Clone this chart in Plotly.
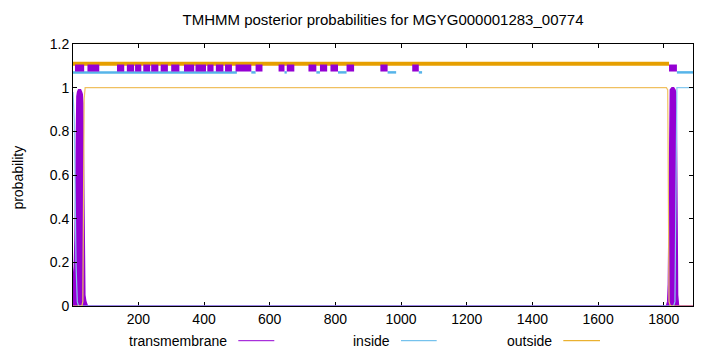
import plotly.graph_objects as go

# ---- posterior probability curves (residue position, probability) ----
tm_pos = [1, 3, 5, 7, 9, 11, 13, 15, 18, 21, 24, 27, 29, 31, 33, 35, 37, 40, 45,
          1808, 1812, 1814, 1816, 1818, 1820, 1825, 1830, 1834, 1836, 1838, 1840, 1842, 1845, 1889]
tm_prob = [0.12, 0.14, 0.18, 0.3, 0.6, 0.92, 0.96, 0.98, 0.99, 0.99, 0.99, 0.98, 0.97, 0.93, 0.6, 0.1, 0.05, 0.02, 0.0,
           0.0, 0.02, 0.1, 0.5, 0.95, 0.99, 1.0, 1.0, 0.99, 0.98, 0.9, 0.4, 0.05, 0.0, 0.0]

inside_pos = [1, 5, 10, 14, 18, 1830, 1834, 1837, 1840, 1889]
inside_prob = [0.98, 0.85, 0.2, 0.02, 0.0, 0.0, 0.02, 0.5, 1.0, 1.0]

outside_pos = [1, 28, 31, 33, 35, 38, 1808, 1812, 1814, 1816, 1820, 1889]
outside_prob = [0.0, 0.0, 0.02, 0.5, 0.95, 1.0, 1.0, 0.99, 0.5, 0.02, 0.0, 0.0]

# ---- predicted topology segments drawn above the curves ----
tm_seg_start = [7, 45, 135, 165, 190, 215, 239, 268, 300, 339, 374, 410, 436, 464, 496,
                557, 627, 652, 718, 753, 785, 834, 937, 1034, 1816]
tm_seg_end = [35, 81, 157, 187, 209, 236, 261, 290, 325, 370, 406, 429, 459, 485, 544,
              578, 645, 675, 742, 775, 808, 857, 959, 1054, 1840]
inside_seg_start = [1, 544, 645, 742, 808, 959, 1054, 1840]
inside_seg_end = [500, 557, 652, 753, 834, 985, 1064, 1889]
outside_seg_start = [1]
outside_seg_end = [1816]

seq_len = 1889
tm_level, inside_level, outside_level = 1.09, 1.07, 1.11

x_ticks = [200, 400, 600, 800, 1000, 1200, 1400, 1600, 1800]
y_ticks = [0, 0.2, 0.4, 0.6, 0.8, 1.0, 1.2]

PURPLE = "#9400D3"
CYAN = "#56B4E9"
ORANGE = "#E69F00"
CYAN_LIGHT = "#86C9F0"
ORANGE_LIGHT = "#F0C060"
FONT = "Liberation Sans, Arial, sans-serif"


def seg_xy(starts, ends, level):
    xs, ys = [], []
    for s, e in zip(starts, ends):
        xs += [s, e, None]
        ys += [level, level, None]
    return xs, ys


fig = go.Figure()

# outside segment bar
x, y = seg_xy(outside_seg_start, outside_seg_end, outside_level)
fig.add_trace(go.Scatter(x=x, y=y, mode="lines", line=dict(color=ORANGE, width=4), showlegend=False, hoverinfo="skip"))
# inside segment bar
x, y = seg_xy(inside_seg_start, inside_seg_end, inside_level)
fig.add_trace(go.Scatter(x=x, y=y, mode="lines", line=dict(color=CYAN, width=2.5), showlegend=False, hoverinfo="skip"))
# TM segment bar
x, y = seg_xy(tm_seg_start, tm_seg_end, tm_level)
fig.add_trace(go.Scatter(x=x, y=y, mode="lines", line=dict(color=PURPLE, width=7), showlegend=False, hoverinfo="skip"))

# TM posterior (impulse-like filled)
fig.add_trace(go.Scatter(x=tm_pos, y=tm_prob, mode="lines", fill="tozeroy",
                         fillcolor=PURPLE, line=dict(color=PURPLE, width=1.5), showlegend=False))
# inside posterior
fig.add_trace(go.Scatter(x=inside_pos, y=inside_prob, mode="lines",
                         line=dict(color=CYAN_LIGHT, width=1.2), showlegend=False))
# outside posterior
fig.add_trace(go.Scatter(x=outside_pos, y=outside_prob, mode="lines",
                         line=dict(color=ORANGE_LIGHT, width=1.2), showlegend=False))

axis_common = dict(showgrid=False, zeroline=False, showline=True, linecolor="black", linewidth=1,
                   mirror="ticks", ticks="inside", ticklen=4, tickcolor="black", tickwidth=1,
                   tickfont=dict(family=FONT, size=14, color="black"))

fig.update_layout(
    width=720, height=352,
    margin=dict(l=73, r=27, t=44, b=46),
    paper_bgcolor="white", plot_bgcolor="white",
    showlegend=False,
    title=dict(text="TMHMM posterior probabilities for MGYG000001283_00774",
               x=0.5, xref="paper", xanchor="center", y=1 - 20 / 352, yref="container", yanchor="middle",
               font=dict(family=FONT, size=15, color="black")),
    xaxis=dict(range=[1, seq_len], tickvals=x_ticks, layer="below traces", **axis_common),
    yaxis=dict(range=[0, 1.2], tickvals=y_ticks, **axis_common),
)

# y axis label
fig.add_annotation(text="probability", xref="paper", yref="paper", x=(18 - 73) / 620, y=0.49,
                   textangle=-90, showarrow=False, font=dict(family=FONT, size=14, color="black"),
                   xanchor="center", yanchor="middle")

# gnuplot-style legend: text then line sample
legend_items = [("transmembrane", PURPLE, 229.3, 238.3, 274.3),
                ("inside", CYAN, 392, 401, 436.7),
                ("outside", ORANGE, 554, 563.3, 600)]
ly = (306.3 - 341) / 262
for name, col, tx, l0, l1 in legend_items:
    fig.add_annotation(text=name, xref="paper", yref="paper", x=(tx - 73) / 620, y=ly,
                       xanchor="right", yanchor="middle", showarrow=False,
                       font=dict(family=FONT, size=14, color="black"))
    fig.add_shape(type="line", xref="paper", yref="paper", x0=(l0 - 73) / 620, x1=(l1 - 73) / 620,
                  y0=ly, y1=ly, line=dict(color=col, width=1))

fig.write_html("out.html")
